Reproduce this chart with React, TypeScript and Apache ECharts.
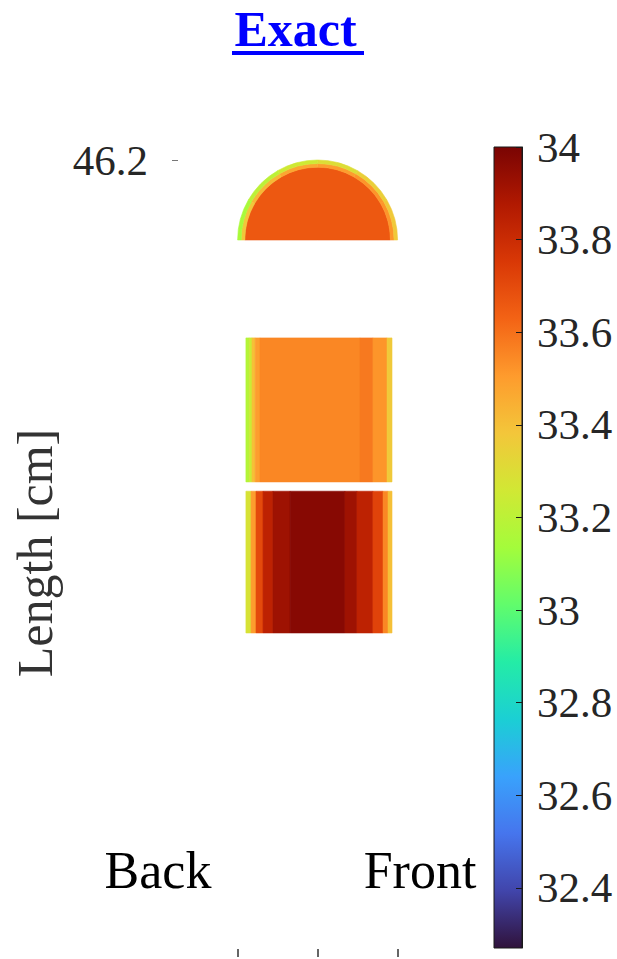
import { useEffect, useRef } from 'react';
import * as echarts from 'echarts';

// Turbo colormap, low -> high
const turboColors = [
  '#30123b', '#4145ab', '#4675ed', '#39a2fc', '#1bcfd4', '#24eca6', '#61fc6c', '#a4fc3b',
  '#d1e834', '#f3c63a', '#fe9b2d', '#f36315', '#d93806', '#b11901', '#7a0403',
];

// Colour scale (temperature)
const colorMin = 32.27;
const colorMax = 34;
const colorTicks = [32.4, 32.6, 32.8, 33, 33.2, 33.4, 33.6, 33.8, 34];

// Axis ticks (cm)
const lengthTicks = [46.2];
const widthTicks = [0, 5, 10];

// Upper block: column edges (cm) and the value in each column
const upperSpan = [26.08, 35.08];
const upperEdges = [0.52, 0.72, 0.9, 1.1, 1.4, 7.65, 8.46, 9.34, 9.65];
const upperValues = [33.18, 33.24, 33.4, 33.5, 33.55, 33.58, 33.52, 33.37];

// Lower block
const lowerSpan = [16.64, 25.5];
const lowerEdges = [0.52, 0.84, 1.15, 1.59, 2.21, 3.28, 6.71, 7.46, 8.46, 9.09, 9.4, 9.65];
const lowerValues = [33.28, 33.5, 33.7, 33.84, 33.92, 33.97, 33.92, 33.84, 33.72, 33.55, 33.4];

// Dome: centre (cm), core radius and outer ring radii (cm), ring sectors (deg, from the front side)
const domeCenter = [5, 41.2];
const domeCoreRadius = 4.55;
const domeCoreValue = 33.66;
const domeRingRadii = [4.55, 4.78, 5.0];
const domeAngles = [0, 30, 60, 90, 120, 150, 180];
const domeBandValues = [33.52, 33.52, 33.5, 33.47, 33.42, 33.38];
const domeRimValues = [33.37, 33.35, 33.3, 33.25, 33.2, 33.15];

const serif = '"Liberation Serif", "Times New Roman", serif';

function stripData(span: number[], edges: number[], values: number[]) {
  return values.map((v, i) => [v, edges[i], edges[i + 1], span[0], span[1]]);
}

function domeData() {
  // [value, inner radius, outer radius, start angle, end angle]
  const out: number[][] = [[domeCoreValue, 0, domeCoreRadius, 0, 180]];
  [domeBandValues, domeRimValues].forEach((vals, j) => {
    vals.forEach((v, i) => {
      out.push([v, domeRingRadii[j], domeRingRadii[j + 1], domeAngles[i], domeAngles[i + 1]]);
    });
  });
  return out;
}

export default function App() {
  const ref = useRef<HTMLDivElement>(null);

  useEffect(() => {
    if (!ref.current) return;
    const chart = echarts.init(ref.current, undefined, { renderer: 'svg' });

    const gradientStops = turboColors
      .slice()
      .reverse()
      .map((c, i, arr) => ({ offset: i / (arr.length - 1), color: c }));

    const option: any = {
      animation: false,
      backgroundColor: '#ffffff',
      grid: [
        { left: 172, top: 160, width: 292, bottom: 2 },
        {
          left: 494,
          top: 147,
          width: 28,
          height: 801,
          show: true,
          backgroundColor: new echarts.graphic.LinearGradient(0, 0, 0, 1, gradientStops),
          borderColor: '#1a1a1a',
          borderWidth: 1,
        },
      ],
      xAxis: [
        {
          type: 'value',
          gridIndex: 0,
          min: -4.1,
          max: 14.15,
          axisLine: { show: false, onZero: false },
          splitLine: { show: false },
          axisLabel: { show: false },
          axisTick: {
            show: true,
            inside: true,
            length: 8,
            customValues: widthTicks,
            lineStyle: { color: '#333333', width: 1.5 },
          },
        },
        {
          type: 'value',
          gridIndex: 1,
          min: 0,
          max: 1,
          show: false,
          axisLine: { onZero: false },
        },
      ],
      yAxis: [
        {
          type: 'value',
          gridIndex: 0,
          min: -3.6125,
          max: 46.2,
          axisLine: { show: false, onZero: false },
          splitLine: { show: false },
          axisTick: {
            show: true,
            inside: true,
            length: 6,
            customValues: lengthTicks,
            lineStyle: { color: '#777777' },
          },
          axisLabel: {
            customValues: lengthTicks,
            margin: 24,
            fontSize: 43,
            fontFamily: serif,
            color: '#262626',
            padding: [12, 0, 0, 0],
          },
        },
        {
          type: 'value',
          gridIndex: 1,
          position: 'right',
          min: colorMin,
          max: colorMax,
          axisLine: { show: true, onZero: false, lineStyle: { color: '#1a1a1a', width: 1 } },
          splitLine: { show: false },
          axisTick: {
            show: true,
            inside: true,
            length: 6,
            customValues: colorTicks,
            lineStyle: { color: '#1a1a1a' },
          },
          axisLabel: {
            customValues: colorTicks,
            margin: 15,
            fontSize: 43,
            fontFamily: serif,
            color: '#262626',
          },
        },
      ],
      visualMap: {
        type: 'continuous',
        show: false,
        min: colorMin,
        max: colorMax,
        dimension: 0,
        seriesIndex: [0, 1],
        inRange: { color: turboColors },
      },
      series: [
        {
          type: 'custom',
          xAxisIndex: 0,
          yAxisIndex: 0,
          encode: { x: [1, 2], y: [3, 4] },
          data: [...stripData(upperSpan, upperEdges, upperValues), ...stripData(lowerSpan, lowerEdges, lowerValues)],
          renderItem: (_params: any, api: any) => {
            const p0 = api.coord([api.value(1), api.value(4)]);
            const p1 = api.coord([api.value(2), api.value(3)]);
            const color = api.visual('color');
            return {
              type: 'rect',
              shape: { x: p0[0], y: p0[1], width: p1[0] - p0[0], height: p1[1] - p0[1] },
              style: { fill: color, stroke: color, lineWidth: 0.6 },
            };
          },
        },
        {
          type: 'custom',
          xAxisIndex: 0,
          yAxisIndex: 0,
          data: domeData(),
          renderItem: (_params: any, api: any) => {
            const c = api.coord(domeCenter);
            const r0 = api.size([api.value(1), 0])[0];
            const r = api.size([api.value(2), 0])[0];
            const a0 = (api.value(3) * Math.PI) / 180;
            const a1 = (api.value(4) * Math.PI) / 180;
            const color = api.visual('color');
            return {
              type: 'sector',
              shape: { cx: c[0], cy: c[1], r0, r, startAngle: -a1, endAngle: -a0, clockwise: true },
              style: { fill: color, stroke: color, lineWidth: 0.6 },
            };
          },
        },
      ],
      graphic: [
        {
          type: 'text',
          x: 295.5,
          y: 28.5,
          style: {
            text: 'Exact',
            fill: '#0000ff',
            font: `bold 50px ${serif}`,
            align: 'center',
            verticalAlign: 'middle',
          },
        },
        {
          type: 'rect',
          shape: { x: 232, y: 51, width: 132, height: 4 },
          style: { fill: '#0000ff' },
        },
        {
          type: 'text',
          x: 35,
          y: 553,
          rotation: Math.PI / 2,
          style: {
            text: 'Length [cm]',
            fill: '#333333',
            font: `50px ${serif}`,
            align: 'center',
            verticalAlign: 'middle',
          },
        },
        {
          type: 'text',
          x: 158,
          y: 870,
          style: { text: 'Back', fill: '#000000', font: `52px ${serif}`, align: 'center', verticalAlign: 'middle' },
        },
        {
          type: 'text',
          x: 420,
          y: 870,
          style: { text: 'Front', fill: '#000000', font: `52px ${serif}`, align: 'center', verticalAlign: 'middle' },
        },
      ],
    };

    chart.setOption(option);
    return () => chart.dispose();
  }, []);

  return (
    <div
      ref={ref}
      style={{ position: 'fixed', left: 0, top: 0, width: 617, height: 959, background: '#ffffff' }}
    />
  );
}
